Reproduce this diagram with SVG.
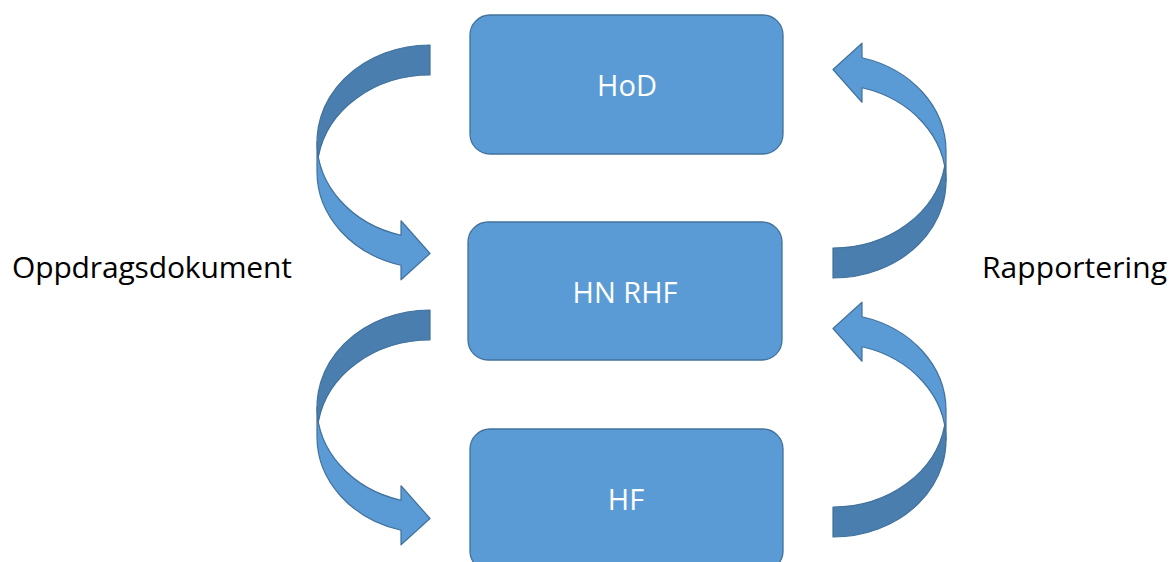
<svg xmlns="http://www.w3.org/2000/svg" width="1176" height="562" viewBox="0 0 1176 562">
<style>
.box{fill:#5B9BD5;stroke:#41719C;stroke-width:1.3}
.lbl{font-family:"Open Sans","Liberation Sans",sans-serif;font-size:29px;fill:#FFFFFF;text-anchor:middle}
.side{font-family:"Open Sans","Liberation Sans",sans-serif;font-size:30px;fill:#000000}
.front{fill:#5B9BD5;stroke:#41719C;stroke-width:1.2;stroke-linejoin:round}
.back{fill:#4A7EAE;stroke:#41719C;stroke-width:1.2;stroke-linejoin:round}
</style>
<defs>
<g id="curved">
<path class="back" d="M113,30 A113,96.75 0 0 0 1.37,111.75 A113,96.75 0 0 1 113,0 Z"/>
<path class="front" d="M0,96.75 A113,96.75 0 0 0 84,190.26 L84,175.76 L113,208.5 L84,234.76 L84,220.26 A113,96.75 0 0 1 0,126.75 Z"/>
</g>
</defs>
<rect width="1176" height="562" fill="#FFFFFF"/>
<g id="connectors">
<use href="#curved" transform="translate(317,45)"/>
<use href="#curved" transform="translate(317,310)"/>
<use href="#curved" transform="translate(946,278) rotate(180)"/>
<use href="#curved" transform="translate(946,537) rotate(180)"/>
</g>
<g id="node-hod">
<rect class="box" x="470" y="15" width="313" height="139" rx="20" ry="20"/>
<text class="lbl" x="627" y="96">HoD</text>
</g>
<g id="node-hnrhf">
<rect class="box" x="468" y="222" width="314" height="138" rx="20" ry="20"/>
<text class="lbl" x="625" y="303">HN RHF</text>
</g>
<g id="node-hf">
<rect class="box" x="470" y="429" width="313" height="142" rx="20" ry="20"/>
<text class="lbl" x="626" y="510">HF</text>
</g>
<g id="label-left">
<text class="side" x="12" y="278" textLength="280">Oppdragsdokument</text>
</g>
<g id="label-right">
<text class="side" x="982" y="278" textLength="185">Rapportering</text>
</g>
</svg>
